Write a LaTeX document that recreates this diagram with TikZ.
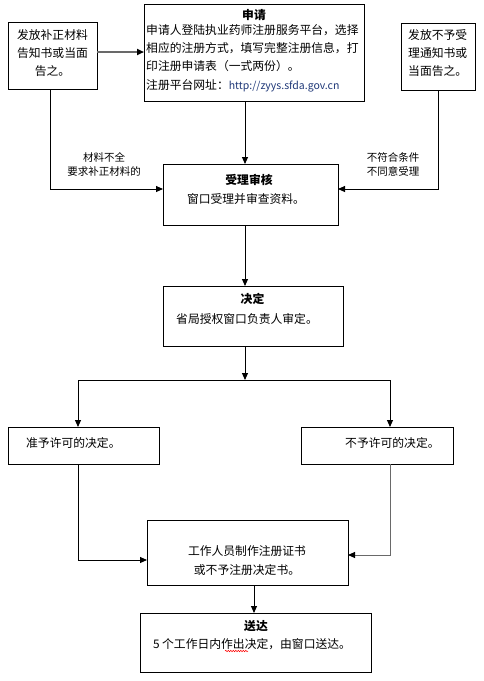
\documentclass[tikz,border=0pt]{standalone}
\usepackage{fontspec}
\setmainfont{Noto Sans CJK SC}
\usetikzlibrary{arrows.meta,decorations.pathmorphing}
\definecolor{urlblue}{RGB}{31,56,120}
\definecolor{lgray}{RGB}{105,105,105}
\begin{document}
\begin{tikzpicture}[x=1pt,y=-1pt,
  box/.style={draw=black,line width=0.9pt,inner sep=0pt,outer sep=0pt,anchor=north west},
  txt/.style={inner sep=0pt,font=\fontsize{11.8}{18.3}\selectfont},
  ttl/.style={inner sep=0pt,font=\fontsize{11.8}{14}\selectfont\bfseries},
  lbl/.style={inner sep=0pt,font=\fontsize{10.5}{14}\selectfont,align=center},
  arr/.style={line width=0.9pt,-{Triangle[length=7pt,width=6pt,color=black]}},
  ln/.style={line width=0.9pt}]
\useasboundingbox (0,0) rectangle (483,681);
\fill[white] (0,0) rectangle (483,681);

% boxes
\node[box,minimum width=89pt,minimum height=67pt] (b1) at (8,22) {};
\node[box,minimum width=220pt,minimum height=97pt] (ap) at (144,4) {};
\node[box,minimum width=74pt,minimum height=67pt] (b2) at (401,23) {};
\node[box,minimum width=175pt,minimum height=61pt] (sh) at (163,164) {};
\node[box,minimum width=180pt,minimum height=60pt] (jd) at (163,286) {};
\node[box,minimum width=151pt,minimum height=37pt] (zy) at (8,427) {};
\node[box,minimum width=152pt,minimum height=37pt] (by) at (301,427) {};
\node[box,minimum width=201pt,minimum height=65pt] (gz) at (147,520) {};
\node[box,minimum width=231pt,minimum height=59pt] (sd) at (140,613) {};

% texts
\node[txt,align=center] (t1) at (52.5,53) {发放补正材料\\告知书或当面\\告之。};
\node[ttl] (t2a) at (254,15) {申请};
\node[txt,align=left,anchor=north west] (t2b) at (146,24) {申请人登陆执业药师注册服务平台，选择\\相应的注册方式，填写完整注册信息，打\\印注册申请表（一式两份）。\\注册平台网址：{\color{urlblue}\fontsize{10.5}{18.3}\selectfont http://zyys.sfda.gov.cn}};
\node[txt,align=left,anchor=west] (t3) at (408,53) {发放不予受\\理通知书或\\当面告之。};
\node[ttl] (t4a) at (249,180) {受理审核};
\node[txt] (t4b) at (246,199) {窗口受理并审查资料。};
\node[ttl] (t5a) at (252.5,299) {决定};
\node[txt] (t5b) at (247,319) {省局授权窗口负责人审定。};
\node[txt,anchor=west] (t6) at (26,443) {准予许可的决定。};
\node[txt,anchor=west] (t7) at (345,443) {不予许可的决定。};
\node[txt,align=center] (t8) at (247,560.5) {工作人员制作注册证书\\或不予注册决定书。};
\node[ttl] (t9a) at (256,626) {送达};
\node[txt] (t9b) at (252,644) {5 个工作日内作出决定，由窗口送达。};

% labels
\node[lbl] (l1) at (104,164) {材料不全\\要求补正材料的};
\node[lbl] (l2) at (393,164) {不符合条件\\不同意受理};

% connectors
\draw[arr,draw=lgray,line width=1.6pt] ([yshift=3.5pt]b1.east) -- ([yshift=3.5pt]b1.east -| ap.west);
\draw[arr] ([xshift=-9pt]ap.south) -- ([xshift=-9pt]ap.south |- sh.north);
\draw[arr] ([xshift=-2.5pt]b1.south) |- ([yshift=5.5pt]sh.west);
\draw[arr] (b2.south) |- ([yshift=5.5pt]sh.east);
\draw[arr] ([xshift=-5.5pt]sh.south) -- ([xshift=-5.5pt]sh.south |- jd.north);
\coordinate (split) at (245,380);
\draw[arr] ([xshift=-8pt]jd.south) -- (split);
\draw[arr] (split) -| ([xshift=-5.5pt]zy.north);
\draw[arr] (split) -| ([xshift=13pt]by.north);
\draw[arr] ([xshift=-5.5pt]zy.south) |- ([yshift=-7.5pt]gz.west);
\draw[arr,draw=lgray] ([xshift=13pt]by.south) |- ([yshift=-2.5pt]gz.east);

\draw[arr] ([xshift=6.5pt]gz.south) -- ([xshift=6.5pt]gz.south |- sd.north);

% spell-check wavy underline
\draw[red,line width=0.5pt,decorate,decoration={snake,amplitude=0.7pt,segment length=2.5pt}] (225,651) -- (248,651);
\end{tikzpicture}
\end{document}
